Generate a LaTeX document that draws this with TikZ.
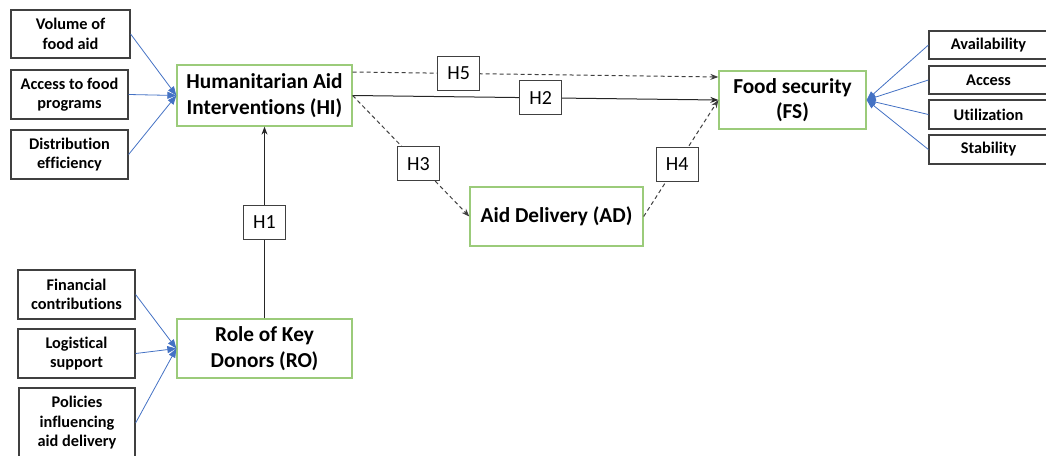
\documentclass[tikz,border=0pt]{standalone}
\usepackage{fontspec}
\setmainfont{Carlito}[Ligatures=NoCommon]
\usetikzlibrary{arrows.meta,calc}
\definecolor{boxgray}{HTML}{404040}
\definecolor{boxgreen}{HTML}{9BCB7A}
\definecolor{linkblue}{HTML}{4472C4}
\begin{document}
\begin{tikzpicture}[x=1pt,y=-1pt,
  ind/.style={draw=boxgray,line width=1.2pt,fill=white,inner sep=0pt,align=center,font=\fontsize{16.3}{19.5}\selectfont\bfseries},
  con/.style={draw=boxgreen,line width=1.3pt,fill=white,inner sep=0pt,align=center,font=\fontsize{21.3}{25.5}\selectfont\bfseries},
  hyp/.style={draw=boxgray,solid,line width=1pt,fill=white,minimum width=42pt,minimum height=34pt,inner sep=0pt,font=\fontsize{20}{24}\selectfont},
  ilink/.style={draw=linkblue,line width=0.8pt,-{Triangle[length=9pt,width=7pt]}},
  hpath/.style={draw=black!85,line width=1pt,-{Stealth[length=8pt,width=6pt]}},
  hdash/.style={hpath,draw=black!75,dash pattern=on 4pt off 3pt}
]
\clip (0,0) rectangle (1046,455);
% left indicators of HI
\node[ind,minimum width=119pt,minimum height=48pt] (v1) at (70.5,34) {Volume of\\food aid};
\node[ind,minimum width=117pt,minimum height=49pt] (v2) at (69.5,94.5) {Access to food\\programs};
\node[ind,minimum width=117pt,minimum height=49pt] (v3) at (69.5,154.5) {Distribution\\efficiency};
% left indicators of RO
\node[ind,minimum width=117pt,minimum height=49pt] (r1) at (76.5,294.5) {Financial\\contributions};
\node[ind,minimum width=117pt,minimum height=49pt] (r2) at (76.5,353.5) {Logistical\\support};
\node[ind,minimum width=116pt,minimum height=70pt] (r3) at (77,423) {Policies\\influencing\\aid delivery};
% constructs
\node[con,minimum width=175pt,minimum height=61pt] (HI) at (264.5,95.5) {Humanitarian Aid\\Interventions (HI)};
\node[con,minimum width=175pt,minimum height=59pt] (RO) at (264.5,348.5) {Role of Key\\Donors (RO)};
\node[con,minimum width=147pt,minimum height=58pt] (FS) at (792.5,100) {Food security\\(FS)};
\node[con,minimum width=173pt,minimum height=59pt] (AD) at (556.5,216.5) {Aid Delivery (AD)};
% right indicators of FS
\node[ind,minimum width=119pt,minimum height=28pt] (f1) at (988.5,45) {Availability};
\node[ind,minimum width=119pt,minimum height=28pt] (f2) at (988.5,80) {Access};
\node[ind,minimum width=119pt,minimum height=29pt] (f3) at (988.5,114.5) {Utilization};
\node[ind,minimum width=119pt,minimum height=29pt] (f4) at (988.5,149.5) {Stability};
% indicator links
\draw[ilink] (v1.east) -- (HI.west);
\draw[ilink] (v2.east) -- (HI.west);
\draw[ilink] (v3.east) -- (HI.west);
\draw[ilink] (r1.east) -- (RO.west);
\draw[ilink] (r2.east) -- (RO.west);
\draw[ilink] (r3.east) -- (RO.west);
\draw[ilink] (f1.west) -- (FS.east);
\draw[ilink] (f2.west) -- (FS.east);
\draw[ilink] (f3.west) -- (FS.east);
\draw[ilink] (f4.west) -- (FS.east);
% hypotheses
\draw[hpath] (RO.north) -- node[hyp,pos=0.5] (h1) {H1} (HI.south);
\draw[hpath] (HI.east) -- node[hyp,pos=0.514] (h2) {H2} (FS.west);
\draw[hdash] ([yshift=23.5pt]HI.east) -- node[hyp,pos=0.29] (h5) {H5} ([yshift=23pt]FS.west);
\draw[hdash] (HI.east) -- node[hyp,pos=0.564] (h3) {H3} (AD.west);
\draw[hdash] (AD.east) -- node[hyp,pos=0.45] (h4) {H4} (FS.west);
\end{tikzpicture}
\end{document}
